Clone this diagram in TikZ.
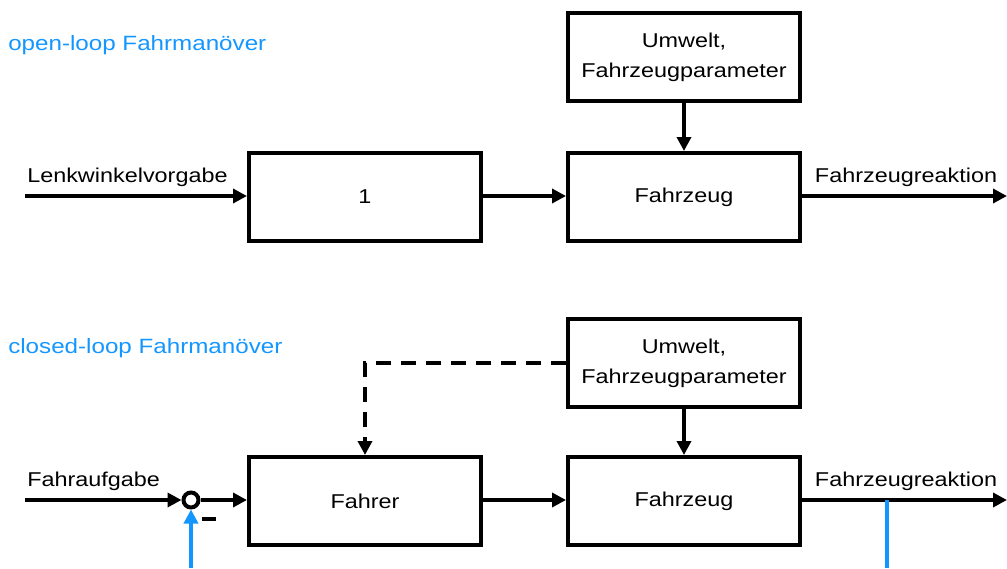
\documentclass[tikz,border=0pt]{standalone}
\usepackage{fontspec}
\setmainfont[FakeStretch=1.17]{Liberation Sans}
\usetikzlibrary{arrows.meta}
\definecolor{loopblue}{RGB}{20,150,255}
\begin{document}
\begin{tikzpicture}[x=0.75pt,y=-0.75pt,
  font=\fontsize{15}{22.5}\selectfont,
  block/.style={draw,line width=3pt,minimum width=174pt,minimum height=66pt,
    align=center,inner sep=0pt},
  conn/.style={line width=3pt,-{Triangle[length=10.5pt,width=10.5pt]}},
  plainline/.style={line width=3pt},
  dashconn/.style={conn,dash pattern=on 11.25pt off 7.5pt},
  sumpoint/.style={circle,draw,line width=3pt,minimum size=11.25pt,inner sep=0pt},
  caption/.style={anchor=west,inner sep=0pt,text=loopblue,font=\fontsize{15.5}{18}\selectfont},
  signal/.style={inner sep=0pt}
]
\useasboundingbox (0,0) rectangle (1007,568);

% open-loop manoeuvre
\node[caption] (cap1) at (8,45) {open-loop Fahrmanöver};
\node[block] (u1) at (684,57) {Umwelt,\\Fahrzeugparameter};
\node[block] (one) at (365,197) {1};
\node[block] (f1) at (684,197) {Fahrzeug};
\coordinate (in1) at (25,196);
\coordinate (out1) at (1007,196);
\node[signal,anchor=west] (l1) at (27,177) {Lenkwinkelvorgabe};
\node[signal] (r1) at (906,177) {Fahrzeugreaktion};

\draw[conn] (in1) -- (one.west |- in1);
\draw[conn] (one.east |- in1) -- (f1.west |- in1);
\draw[conn] (u1.south) -- (f1.north);
\draw[conn] (f1.east |- out1) -- (out1);

% closed-loop manoeuvre
\node[caption] (cap2) at (8,348) {closed-loop Fahrmanöver};
\node[block] (u2) at (684,363) {Umwelt,\\Fahrzeugparameter};
\node[block] (fahrer) at (365,501) {Fahrer};
\node[block] (f2) at (684,501) {Fahrzeug};
\node[sumpoint] (sum) at (191,500) {};
\coordinate (in2) at (25,500);
\coordinate (out2) at (1007,500);
\coordinate (tap) at (887,500);
\coordinate (fb1) at (191,568);
\coordinate (fb2) at (887,568);
\node[signal,anchor=west] (l2) at (27,481) {Fahraufgabe};
\node[signal] (r2) at (906,481) {Fahrzeugreaktion};
% minus sign at the feedback input of the summing point
\node[signal] (minus) at (209,519) {\rule{10.5pt}{3pt}};

\draw[conn] (in2) -- (sum.west);
\draw[conn] (sum.east) -- (fahrer.west |- sum);
\draw[conn] (fahrer.east |- sum) -- (f2.west |- sum);
\draw[conn] (u2.south) -- (f2.north);
\draw[dashconn] (u2.west) -| (fahrer.north);
\draw[conn] (f2.east |- out2) -- (out2);
\draw[conn,loopblue] (fb1) -- (sum.south);
\draw[plainline,loopblue] (tap) -- (fb2);
\end{tikzpicture}
\end{document}
